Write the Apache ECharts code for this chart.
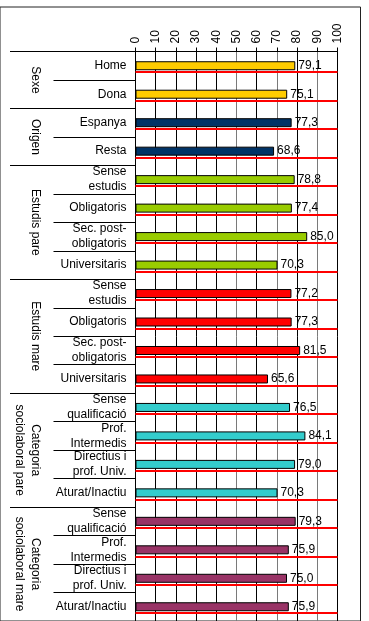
<!DOCTYPE html>
<html>
<head>
<meta charset="utf-8">
<script src="https://cdn.jsdelivr.net/npm/echarts@6/dist/echarts.min.js"></script>
<style>
html,body{margin:0;padding:0;background:#fff;}
#chart{width:369px;height:621px;}
</style>
</head>
<body>
<div id="chart"></div>
<script>
const categories = ['Home','Dona','Espanya','Resta',
  'Sense\nestudis','Obligatoris','Sec. post-\nobligatoris','Universitaris',
  'Sense\nestudis','Obligatoris','Sec. post-\nobligatoris','Universitaris',
  'Sense\nqualificació','Prof.\nIntermedis','Directius i\nprof. Univ.','Aturat/Inactiu',
  'Sense\nqualificació','Prof.\nIntermedis','Directius i\nprof. Univ.','Aturat/Inactiu'];
const values = [79.1,75.1,77.3,68.6,78.8,77.4,85.0,70.3,77.2,77.3,81.5,65.6,76.5,84.1,79.0,70.3,79.3,75.9,75.0,75.9];
const groups = ['Sexe','Origen','Estudis pare','Estudis mare','Categoria\nsociolaboral pare','Categoria\nsociolaboral mare'];
const groupSizes = [2,2,4,4,4,4];
const groupColors = ['#FFCC00','#003366','#99CC00','#FF0000','#33CCCC','#993366'];

const FONT = 'Liberation Sans, Arial, sans-serif';

const barData = [];
let gi = 0, cnt = 0;
for (let i = 0; i < values.length; i++) {
  barData.push({ value: values[i], itemStyle: { color: groupColors[gi] } });
  cnt++;
  if (cnt === groupSizes[gi]) { gi++; cnt = 0; }
}
const nHalf = categories.length * 2;
const groupAxisData = new Array(nHalf + 1).fill('');
const groupTickIdx = [0];
const groupLabelIdx = [];
let start = 0;
groups.forEach((g, k) => {
  const lab = 2 * start + groupSizes[k];
  groupAxisData[lab] = g;
  groupLabelIdx.push(lab);
  start += groupSizes[k];
  groupTickIdx.push(2 * start);
});
const rowLineData = categories.map((c, i) => [0, i]);
const ROWLINE_FRAC = 0.2;

const TOP = 51.5, BOTTOM = 0, LEFT = 135.5, RIGHT = 31.5;

const chart = echarts.init(document.getElementById('chart'), null, {renderer: 'canvas'});
chart.setOption({
  animation: false,
  backgroundColor: '#fff',
  textStyle: { fontFamily: FONT },
  grid: [
    { left: LEFT, right: RIGHT, top: TOP, bottom: BOTTOM, containLabel: false },
    { left: LEFT, right: RIGHT, top: TOP, bottom: BOTTOM, containLabel: false },
    { show: true, left: -5, right: 8.5, top: 7, bottom: -5, borderColor: '#222', borderWidth: 1, backgroundColor: 'transparent' }
  ],
  xAxis: [
    { gridIndex: 0, type: 'value', position: 'top', min: 0, max: 100, interval: 10,
      axisLine: { show: true, lineStyle: { color: '#000', width: 1 } },
      axisTick: { show: true, length: 4, lineStyle: { color: '#000' } },
      axisLabel: { rotate: -90, margin: 8, fontSize: 12, color: '#000', fontFamily: FONT },
      splitLine: { show: true, lineStyle: { width: 1, color: ['#000','#000','#000','#000','#000','#7a7a7a','#000','#7a7a7a','#000','#7a7a7a','#000'] } } },
    { gridIndex: 1, type: 'value', min: 0, max: 100,
      axisLine: { show: false }, axisTick: { show: false }, axisLabel: { show: false }, splitLine: { show: false } },
    { gridIndex: 2, type: 'value', min: 0, max: 1, show: false }
  ],
  yAxis: [
    { gridIndex: 0, type: 'category', data: categories, inverse: true, position: 'left',
      axisLine: { show: true, lineStyle: { color: '#000', width: 1 } },
      axisTick: { show: true, length: 82, lineStyle: { color: '#000' } },
      axisLabel: { margin: 9, fontSize: 12, color: '#000', fontFamily: FONT, lineHeight: 15, align: 'right', interval: 0 },
      splitLine: { show: false } },
    { gridIndex: 1, type: 'category', data: groupAxisData, inverse: true, boundaryGap: false, position: 'left',
      axisLine: { show: false },
      axisTick: { show: true, length: 125.5, interval: (i) => groupTickIdx.indexOf(i) >= 0, lineStyle: { color: '#000' } },
      axisLabel: { show: true, rotate: -90, margin: 92, fontSize: 12, color: '#000', fontFamily: FONT, lineHeight: 16,
        interval: (i) => groupLabelIdx.indexOf(i) >= 0 },
      splitLine: { show: false } },
    { gridIndex: 2, type: 'value', min: 0, max: 1, show: false }
  ],
  series: [
    {
      type: 'custom',
      xAxisIndex: 0, yAxisIndex: 0,
      data: rowLineData,
      encode: { x: 0, y: 1 },
      silent: true,
      clip: false,
      z: 6,
      renderItem: function (params, api) {
        const row = api.value(1);
        const p0 = api.coord([0, row]);
        const p1 = api.coord([100, row]);
        const h = api.size([0, 1])[1];
        const y = Math.round(p0[1] + h * ROWLINE_FRAC);
        return { type: 'rect', shape: { x: p0[0], y: y, width: p1[0] - p0[0], height: 2 },
                 style: { fill: '#ff0000' } };
      }
    },
    {
      type: 'bar',
      xAxisIndex: 0, yAxisIndex: 0,
      data: barData,
      barWidth: 9,
      itemStyle: { borderColor: '#000', borderWidth: 1 },
      label: { show: true, position: 'right', distance: 3, fontSize: 12, color: '#000', fontFamily: FONT,
        formatter: (p) => p.value.toFixed(1).replace('.', ',') },
      z: 5
    }
  ]
});
</script>
</body>
</html>
